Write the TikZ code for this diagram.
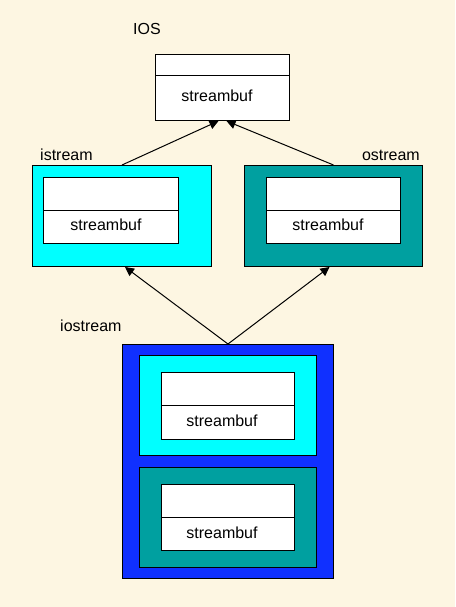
\documentclass[tikz,border=0pt]{standalone}
\usepackage{fontspec}
\setmainfont{Liberation Sans}
\usetikzlibrary{arrows.meta}
\definecolor{bg}{RGB}{253,246,226}
\definecolor{cyanfill}{RGB}{0,255,255}
\definecolor{tealfill}{RGB}{0,160,160}
\definecolor{bluefill}{RGB}{16,48,255}
\begin{document}
\begin{tikzpicture}[x=1pt,y=-1pt,
  box/.style={draw=black, line width=1pt, inner sep=0pt, anchor=north west},
  lbl/.style={font=\fontsize{16}{19}\selectfont, inner sep=0pt},
  arr/.style={-{Triangle[length=9pt,width=9pt]}, line width=1pt}]
\fill[bg] (0,0) rectangle (455,607);
\useasboundingbox (0,0) rectangle (455,607);
% IOS
\node[lbl, anchor=west] (iosl) at (133,29) {IOS};
\node[box, fill=white, minimum width=134pt, minimum height=66pt] (ios) at (155,54) {};
\draw[line width=1pt] ([yshift=-22pt]ios.north west) -- ([yshift=-22pt]ios.north east);
\node[lbl] (iost) at (217,96) {streambuf};
% istream
\node[lbl, anchor=west] (isl) at (40,155) {istream};
\node[box, fill=cyanfill, minimum width=179pt, minimum height=101pt] (istream) at (32,165) {};
\node[box, fill=white, minimum width=135pt, minimum height=66pt] (isb) at (43,177) {};
\draw[line width=1pt] ([yshift=-33pt]isb.north west) -- ([yshift=-33pt]isb.north east);
\node[lbl] (ist) at (106,225) {streambuf};
% ostream
\node[lbl, anchor=east] (osl) at (420,155) {ostream};
\node[box, fill=tealfill, minimum width=178pt, minimum height=101pt] (ostream) at (244,165) {};
\node[box, fill=white, minimum width=134pt, minimum height=66pt] (osb) at (266,177) {};
\draw[line width=1pt] ([yshift=-33pt]osb.north west) -- ([yshift=-33pt]osb.north east);
\node[lbl] (ost) at (328,225) {streambuf};
% iostream
\node[lbl, anchor=west] (iosl2) at (60,326) {iostream};
\node[box, fill=bluefill, minimum width=211pt, minimum height=234pt] (iostream) at (122,344) {};
\node[box, fill=cyanfill, minimum width=177pt, minimum height=100pt] (ioin1) at (139,355) {};
\node[box, fill=white, minimum width=133pt, minimum height=67pt] (iob1) at (161,372) {};
\draw[line width=1pt] ([yshift=-33pt]iob1.north west) -- ([yshift=-33pt]iob1.north east);
\node[lbl] (iot1) at (222,421) {streambuf};
\node[box, fill=tealfill, minimum width=177pt, minimum height=100pt] (ioin2) at (139,467) {};
\node[box, fill=white, minimum width=133pt, minimum height=66pt] (iob2) at (161,484) {};
\draw[line width=1pt] ([yshift=-33pt]iob2.north west) -- ([yshift=-33pt]iob2.north east);
\node[lbl] (iot2) at (222,532.5) {streambuf};
% arrows
\draw[arr] (istream.north) -- ([xshift=-4pt]ios.south);
\draw[arr] (ostream.north) -- ([xshift=4pt]ios.south);
\draw[arr] (iostream.north) -- ([xshift=3pt]istream.south);
\draw[arr] (iostream.north) -- ([xshift=-4pt]ostream.south);
\end{tikzpicture}
\end{document}
